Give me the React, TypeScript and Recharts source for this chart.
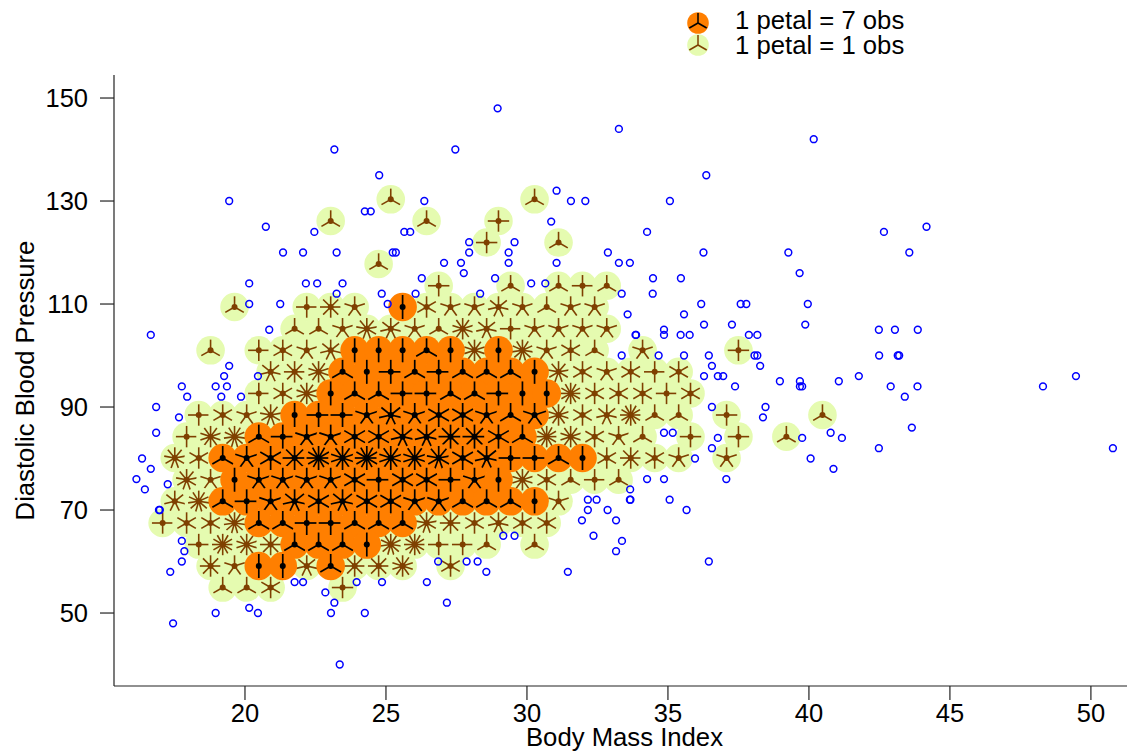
import React from "react";
import { ScatterChart, Scatter, XAxis, YAxis, Label } from "recharts";

type Flower = [number, number, number];

const xTicks = [20, 25, 30, 35, 40, 45, 50];
const yTicks = [50, 70, 90, 110, 130, 150];
const xTitle = "Body Mass Index";
const yTitle = "Diastolic Blood Pressure";
const legendLabels = ["1 petal = 7 obs", "1 petal = 1 obs"];

const lightFlowers: Flower[] = [
  [25.17,130.33,3],[30.27,130.33,3],
  [23.04,126.12,3],[26.44,126.12,3],[28.99,126.12,4],
  [28.57,121.94,4],[31.12,121.94,3],
  [24.74,117.77,3],
  [26.87,113.55,4],[29.42,113.55,3],[31.12,113.55,3],[31.97,113.55,4],[32.83,113.55,3],
  [19.63,109.42,3],[22.19,109.42,4],[23.04,109.42,8],[23.89,109.42,5],[26.44,109.42,6],[27.29,109.42,5],[28.14,109.42,5],[28.99,109.42,7],[29.84,109.42,5],[30.70,109.42,3],[31.55,109.42,5],[32.40,109.42,5],
  [21.76,105.2,3],[22.61,105.2,3],[23.46,105.2,5],[24.32,105.2,9],[25.17,105.2,7],[26.02,105.2,5],[26.87,105.2,3],[27.72,105.2,10],[28.57,105.2,7],[29.42,105.2,4],[30.27,105.2,5],[31.12,105.2,5],[31.97,105.2,5],[32.83,105.2,5],
  [18.78,101.01,3],[20.49,101.01,4],[21.34,101.01,6],[22.19,101.01,5],[23.04,101.01,7],[28.14,101.01,10],[29.84,101.01,11],[30.70,101.01,5],[31.55,101.01,6],[32.40,101.01,3],[34.10,101.01,5],[37.50,101.01,4],
  [20.91,96.83,7],[21.76,96.83,8],[22.61,96.83,10],[31.12,96.83,9],[31.97,96.83,6],[32.83,96.83,5],[33.68,96.83,6],[34.53,96.83,4],[35.38,96.83,6],
  [20.49,92.64,4],[21.34,92.64,6],[22.19,92.64,10],[31.55,92.64,12],[32.40,92.64,6],[33.25,92.64,6],[34.10,92.64,6],[34.95,92.64,4],[35.80,92.64,6],
  [18.36,88.45,4],[19.21,88.45,6],[20.06,88.45,5],[20.91,88.45,9],[31.12,88.45,10],[31.97,88.45,6],[32.83,88.45,7],[33.68,88.45,12],[34.53,88.45,3],[35.38,88.45,3],[37.08,88.45,4],[40.48,88.45,3],
  [17.93,84.25,4],[18.78,84.25,10],[19.63,84.25,11],[30.70,84.25,12],[31.55,84.25,10],[32.40,84.25,6],[33.25,84.25,5],[34.10,84.25,3],[35.80,84.25,4],[37.50,84.25,4],[39.20,84.25,3],
  [17.51,80.1,9],[18.36,80.1,6],[32.83,80.1,6],[33.68,80.1,8],[34.53,80.1,6],[35.38,80.1,5],[37.08,80.1,5],
  [17.93,75.88,9],[18.78,75.88,5],[29.84,75.88,10],[30.70,75.88,6],[31.55,75.88,3],[32.40,75.88,4],[33.25,75.88,3],
  [17.51,71.69,7],[18.36,71.69,11],[31.12,71.69,5],
  [17.08,67.48,4],[17.93,67.48,6],[18.78,67.48,6],[19.63,67.48,11],[26.44,67.48,9],[27.29,67.48,8],[28.14,67.48,6],[28.99,67.48,7],[29.84,67.48,6],[30.70,67.48,6],
  [18.36,63.3,4],[19.21,63.3,12],[20.06,63.3,10],[20.91,63.3,8],[25.17,63.3,11],[26.02,63.3,12],[26.87,63.3,4],[27.72,63.3,4],[28.57,63.3,3],[30.27,63.3,3],
  [18.78,59.13,8],[19.63,59.13,5],[22.19,59.13,7],[23.89,59.13,8],[24.74,59.13,8],[25.59,59.13,10],[27.29,59.13,6],
  [19.21,54.95,3],[20.06,54.95,3],[20.91,54.95,6],[23.46,54.95,4],
];

const darkFlowers: Flower[] = [
  [25.59,109.42,2],
  [23.89,101.01,2],[24.74,101.01,2],[25.59,101.01,2],[26.44,101.01,3],[27.29,101.01,2],[28.99,101.01,2],
  [23.46,96.83,3],[24.32,96.83,2],[25.17,96.83,4],[26.02,96.83,3],[26.87,96.83,4],[27.72,96.83,3],[28.57,96.83,3],[29.42,96.83,3],[30.27,96.83,2],
  [23.04,92.64,2],[23.89,92.64,3],[24.74,92.64,3],[25.59,92.64,4],[26.44,92.64,4],[27.29,92.64,3],[28.14,92.64,3],[28.99,92.64,4],[29.84,92.64,2],[30.70,92.64,2],
  [21.76,88.45,2],[22.61,88.45,4],[23.46,88.45,4],[24.32,88.45,5],[25.17,88.45,7],[26.02,88.45,5],[26.87,88.45,6],[27.72,88.45,6],[28.57,88.45,5],[29.42,88.45,3],[30.27,88.45,5],
  [20.49,84.25,3],[21.34,84.25,4],[22.19,84.25,5],[23.04,84.25,5],[23.89,84.25,6],[24.74,84.25,6],[25.59,84.25,7],[26.44,84.25,7],[27.29,84.25,8],[28.14,84.25,8],[28.99,84.25,6],[29.84,84.25,3],
  [19.21,80.1,3],[20.06,80.1,5],[20.91,80.1,6],[21.76,80.1,8],[22.61,80.1,12],[23.46,80.1,10],[24.32,80.1,12],[25.17,80.1,10],[26.02,80.1,10],[26.87,80.1,9],[27.72,80.1,6],[28.57,80.1,7],[29.42,80.1,4],[30.27,80.1,4],[31.12,80.1,3],[31.97,80.1,2],
  [19.63,75.88,2],[20.49,75.88,5],[21.34,75.88,5],[22.19,75.88,5],[23.04,75.88,5],[23.89,75.88,6],[24.74,75.88,4],[25.59,75.88,6],[26.44,75.88,6],[27.29,75.88,4],[28.14,75.88,5],[28.99,75.88,2],
  [19.21,71.69,3],[20.06,71.69,4],[20.91,71.69,5],[21.76,71.69,7],[22.61,71.69,6],[23.46,71.69,7],[24.32,71.69,6],[25.17,71.69,6],[26.02,71.69,5],[26.87,71.69,5],[27.72,71.69,3],[28.57,71.69,3],[29.42,71.69,3],[30.27,71.69,2],
  [20.49,67.48,3],[21.34,67.48,3],[22.19,67.48,4],[23.04,67.48,4],[23.89,67.48,3],[24.74,67.48,3],[25.59,67.48,3],
  [21.76,63.3,3],[22.61,63.3,3],[23.46,63.3,3],[24.32,63.3,2],
  [20.49,59.13,2],[21.34,59.13,2],[23.04,59.13,3],
];

const singles: [number, number][] = [
  [23.17,140],[24.76,135],[19.44,130],[26.36,130],[24.25,128],[24.46,128],[20.74,125],[22.46,124],[25.65,124],[25.86,124],
  [21.35,120],[22.06,120],[23.25,120],[25.24,120],[25.35,120],[26.27,115],[20.15,114],[22.16,114],[22.56,114],[23.46,114],
  [28.96,148],[33.26,144],[27.46,140],[36.36,135],[31.05,132],[31.56,130],[32.07,130],[35.07,130],[30.86,126],[34.26,124],
  [27.95,122],[29.56,122],[27.95,120],[29.35,120],[32.87,120],[36.26,120],[27.06,118],[27.66,118],[29.35,118],[31.05,118],
  [33.26,118],[33.65,118],[27.76,116],[28.87,115],[34.47,115],[35.46,115],[30.15,114],[30.65,114],[33.36,112],[34.46,112],[28.34,112],
  [40.17,142],[42.66,124],[44.17,125],[39.27,120],[43.56,120],[39.67,116],[36.18,110],[37.58,110],[37.78,110],[39.96,110],
  [33.57,108],[35.57,108],[33.85,104],[33.36,100],[26.05,112],[25.06,110],[24.85,112],[23.25,112],[20.15,110],[21.25,110],[16.66,104],
  [20.86,105],[19.44,98],[19.26,96],[20.46,96],[17.76,94],[18.96,94],[19.36,94],[17.95,92],[19.16,92],[19.86,92],
  [16.85,90],[17.66,88],[16.85,85],[16.35,80],[16.66,78],[16.15,76],[17.26,75],[16.45,74],[16.95,70],[16.98,70],
  [17.76,64],[17.85,62],[17.76,60],[17.35,58],[21.76,56],[22.06,56],[22.85,54],[23.96,56],[24.86,56],[23.17,52],[20.15,51],
  [17.45,48],[18.96,50],[20.46,50],[23.05,50],[24.25,50],[23.36,40],
  [33.66,74],[33.65,72],[33.67,72],[32.16,72],[32.47,72],[32.16,70],[32.86,70],[33.16,68],[31.95,68],[32.36,65],[33.37,64],[33.16,62],
  [29.16,65],[29.56,65],[31.45,58],[26.85,60],[27.86,60],[28.25,60],[28.56,58],[26.45,56],[27.16,52],
  [36.28,106],[37.27,106],[39.87,106],[42.48,105],[34.86,105],[34.86,104],[33.87,104],[35.45,104],[35.77,104],[37.87,104],[38.17,104],
  [34.67,100],[35.57,100],[36.45,100],[38.07,100],[38.17,100],[42.49,100],[36.56,98],[38.27,98],[36.28,96],[36.77,96],[36.96,96],[41.77,96],
  [38.97,95],[39.68,95],[41.06,95],[37.38,94],[39.68,94],[39.76,94],[38.46,90],[36.56,90],[38.37,88],[34.86,85],[35.17,85],[36.77,84],
  [39.76,84],[40.77,85],[41.17,84],[36.56,82],[42.48,82],[35.96,80],[40.06,80],[40.87,78],[34.26,76],[34.86,76],[37.07,76],
  [43.05,105],[43.86,105],[43.15,100],[43.2,100],[42.9,94],[43.4,92],[43.85,94],[43.65,86],[48.3,94],[49.47,96],[50.78,82],
  [35.06,72],[35.66,70],[36.45,60],
];

const toRows = (list: Flower[]) => list.map(([x, y, petals]) => ({ x, y, petals }));
const singleRows = singles.map(([x, y]) => ({ x, y }));

const FONT = '"Liberation Sans", Arial, sans-serif';
const ORANGE = "#FF7F00";
const LIGHT = "#E5FBB0";
const BROWN = "#7F4000";

function petalLines(cx: number, cy: number, n: number, len: number, color: string, width: number) {
  const out = [];
  for (let i = 0; i < n; i++) {
    const a = (i * 2 * Math.PI) / n;
    out.push(
      <line key={i} x1={cx} y1={cy} x2={cx + len * Math.sin(a)} y2={cy - len * Math.cos(a)} stroke={color} strokeWidth={width} />
    );
  }
  return out;
}

const makeFlower = (fill: string, color: string, len: number, width: number) => (props: any) => {
  const { cx, cy, payload } = props;
  return (
    <g>
      <circle cx={cx} cy={cy} r={14.3} fill={fill} />
      {petalLines(cx, cy, payload.petals, len, color, width)}
      <circle cx={cx} cy={cy} r={3} fill={color} />
    </g>
  );
};

const LightShape = makeFlower(LIGHT, BROWN, 10.7, 1.6);
const DarkShape = makeFlower(ORANGE, "#000000", 12, 1.7);
const Single = (props: any) => (
  <circle cx={props.cx} cy={props.cy} r={3.4} fill="none" stroke="#0000FF" strokeWidth={1.5} />
);

export default function App() {
  const tick = { fill: "#000", fontSize: 25.5, fontFamily: FONT };
  return (
    <div style={{ position: "absolute", left: 0, top: 0 }}>
      <ScatterChart width={1127} height={752} margin={{ top: 75, right: 0, bottom: 0, left: 0 }}>
        <XAxis
          type="number"
          dataKey="x"
          domain={[15.355, 51.28]}
          ticks={xTicks}
          height={66}
          tickSize={14}
          tickMargin={4}
          tick={tick}
          axisLine={{ stroke: "#222", strokeWidth: 1.2 }}
          tickLine={{ stroke: "#222", strokeWidth: 1.2 }}
          allowDataOverflow
        >
          <Label value={xTitle} position="insideBottom" offset={6} dx={4} fill="#000" fontSize={25.7} fontFamily={FONT} />
        </XAxis>
        <YAxis
          type="number"
          dataKey="y"
          domain={[35.83, 154.47]}
          ticks={yTicks}
          width={114}
          tickSize={14}
          tickMargin={12}
          tick={tick}
          axisLine={{ stroke: "#222", strokeWidth: 1.2 }}
          tickLine={{ stroke: "#222", strokeWidth: 1.2 }}
          allowDataOverflow
        >
          <Label value={yTitle} angle={-90} position="insideLeft" offset={0} dx={25} fill="#000" fontSize={25.7} fontFamily={FONT} style={{ textAnchor: "middle" }} />
        </YAxis>
        <Scatter data={toRows(lightFlowers)} shape={LightShape} isAnimationActive={false} />
        <Scatter data={toRows(darkFlowers)} shape={DarkShape} isAnimationActive={false} />
        <Scatter data={singleRows} shape={Single} isAnimationActive={false} />
        <g>
          <circle cx={698} cy={23} r={10.8} fill={ORANGE} />
          {petalLines(698, 23, 3, 10, "#000000", 1.5)}
          <circle cx={698} cy={45} r={10.8} fill={LIGHT} />
          {petalLines(698, 45, 3, 10, BROWN, 1.5)}
          <text x={735} y={29} fontSize={25.7} fontFamily={FONT} fill="#000">{legendLabels[0]}</text>
          <text x={735} y={54} fontSize={25.7} fontFamily={FONT} fill="#000">{legendLabels[1]}</text>
        </g>
      </ScatterChart>
    </div>
  );
}
